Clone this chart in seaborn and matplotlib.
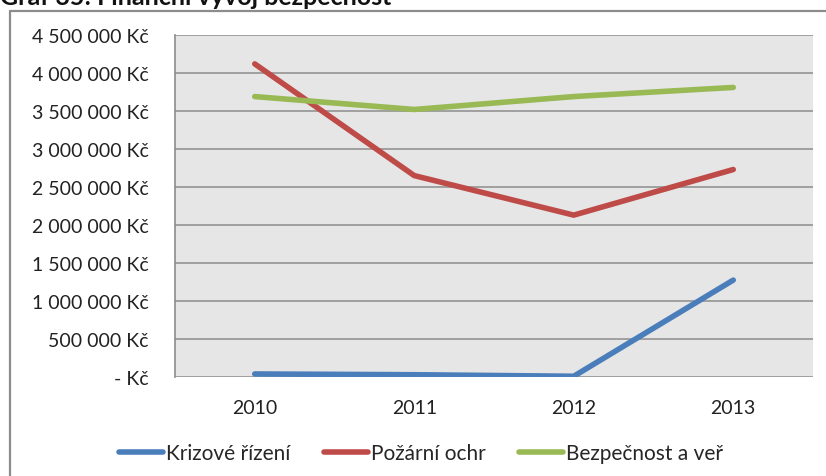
import matplotlib
matplotlib.use("Agg")
import matplotlib.pyplot as plt
from matplotlib.lines import Line2D
from matplotlib.ticker import FuncFormatter, MultipleLocator
import seaborn as sns
import pandas as pd

years = ["2010", "2011", "2012", "2013"]
krizove_rizeni = [40000, 30000, 10000, 1275000]
pozarni_ochr = [4120000, 2650000, 2130000, 2730000]
bezpecnost_a_ver = [3690000, 3520000, 3690000, 3810000]
series_names = ["Krizové řízení", "Požární ochr", "Bezpečnost a veř"]
colors = ["#4A7EBB", "#BE4B48", "#98B954"]

df = pd.DataFrame({
    "rok": years * 3,
    "hodnota": krizove_rizeni + pozarni_ochr + bezpecnost_a_ver,
    "rada": [series_names[0]] * 4 + [series_names[1]] * 4 + [series_names[2]] * 4,
})

sns.set_theme(style="white")
plt.rcParams["font.family"] = ["Lato", "DejaVu Sans"]

W, H = 826, 477
fig = plt.figure(figsize=(W / 100, H / 100), dpi=100)

left, right, top, bottom = 175, 813, 36, 378
ax = fig.add_axes([left / W, 1 - bottom / H, (right - left) / W, (bottom - top) / H])
ax.set_facecolor("#E6E6E6")

sns.lineplot(data=df, x="rok", y="hodnota", hue="rada", palette=colors,
             hue_order=series_names, sort=False, linewidth=4.0, ax=ax,
             legend=False, solid_capstyle="round")

ax.set_xlim(-0.5, 3.5)
ax.set_ylim(0, 4500000)
ax.yaxis.set_major_locator(MultipleLocator(500000))


def kc(v, pos):
    if v == 0:
        return "- Kč"
    return f"{int(round(v)):,}".replace(",", " ") + " Kč"


ax.yaxis.set_major_formatter(FuncFormatter(kc))
ax.grid(axis="y", color="#A0A0A0", linewidth=1.4)
ax.set_axisbelow(True)
for side in ["top", "right", "bottom"]:
    ax.spines[side].set_visible(False)
ax.spines["left"].set_color("#8C8C8C")
ax.spines["left"].set_linewidth(1.2)
ax.tick_params(axis="both", length=0, labelsize=14, colors="#222222")
ax.tick_params(axis="y", pad=19)
ax.tick_params(axis="x", pad=16)
ax.set_xlabel("")
ax.set_ylabel("")

handles = [Line2D([0], [0], color=c, linewidth=4.0, solid_capstyle="round") for c in colors]
fig.legend(handles, series_names, loc="center", bbox_to_anchor=(421 / W, 1 - 454 / H),
           ncol=3, frameon=False, fontsize=15, handlelength=2.1,
           handletextpad=0.15, columnspacing=1.6)

# outer chart frame
fig.add_artist(Line2D([10 / W, 10 / W], [0, 1 - 11.5 / H], color="#8C8C8C",
                      linewidth=1.6, transform=fig.transFigure))
fig.add_artist(Line2D([10 / W, 1], [1 - 11.5 / H, 1 - 11.5 / H], color="#8C8C8C",
                      linewidth=1.6, transform=fig.transFigure))

# caption above the chart, partly cut by the top edge
fig.text(0 / W, 1 - 5 / H, "Graf 35: Finanční vývoj bezpečnost", fontsize=18,
         fontweight="bold", ha="left", va="baseline", color="#111111")

fig.savefig("out.png", dpi=100, facecolor="white")
